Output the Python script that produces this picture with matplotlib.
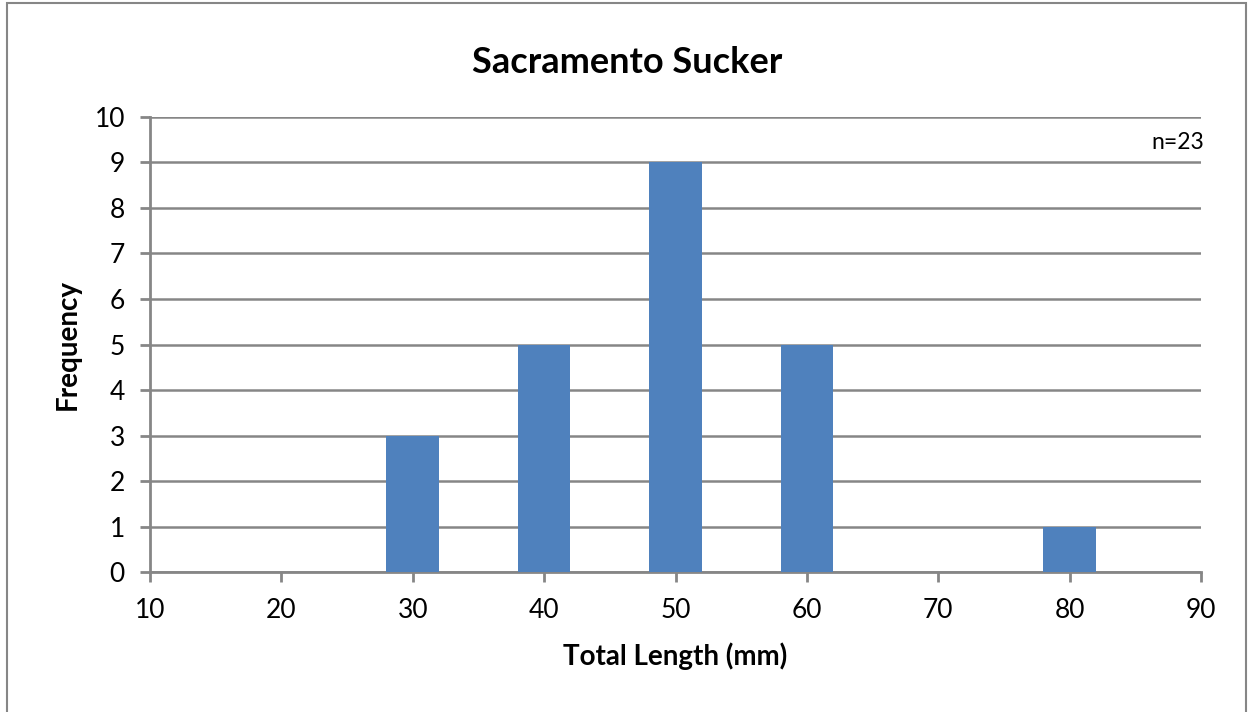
import matplotlib
matplotlib.use('Agg')
import matplotlib.pyplot as plt
from matplotlib.patches import Rectangle

# data
lengths = [30, 40, 50, 60, 80]
counts = [3, 5, 9, 5, 1]
xticks = [10, 20, 30, 40, 50, 60, 70, 80, 90]
yticks = list(range(0, 11))

plt.rcParams['font.family'] = ['Lato', 'DejaVu Sans']
grey = '#868686'

fig = plt.figure(figsize=(12.51, 7.12), dpi=100)
ax = fig.add_axes([0.1199, 0.1966, 0.8402, 0.6391])

# outer chart border
fig.patches.append(Rectangle((0.0056, -0.01), 0.9904, 1.006, transform=fig.transFigure,
                             fill=False, edgecolor=grey, linewidth=1.5))

ax.bar(lengths, counts, width=4, color='#4f81bd', zorder=3)

ax.set_xlim(10, 90)
ax.set_ylim(0, 10)
ax.set_xticks(xticks)
ax.set_yticks(yticks)
ax.yaxis.grid(True, color=grey, linewidth=1.8, zorder=0)
ax.set_axisbelow(True)

for s in ['top', 'right']:
    ax.spines[s].set_visible(False)
for s in ['left', 'bottom']:
    ax.spines[s].set_color(grey)
    ax.spines[s].set_linewidth(2)
ax.tick_params(color=grey, width=2, length=7, labelsize=19, pad=11)
ax.tick_params(axis='x', pad=12)

fig.text(0.501, 0.912, 'Sacramento Sucker', fontsize=26, fontweight='bold', ha='center', va='center')
ax.set_xlabel('Total Length (mm)', fontsize=20, fontweight='bold', labelpad=14)
ax.set_ylabel('Frequency', fontsize=20, fontweight='bold', labelpad=10)
ax.text(1.003, 0.943, 'n=23', transform=ax.transAxes, ha='right', va='center', fontsize=16.5)

fig.savefig('out.png', dpi=100)
